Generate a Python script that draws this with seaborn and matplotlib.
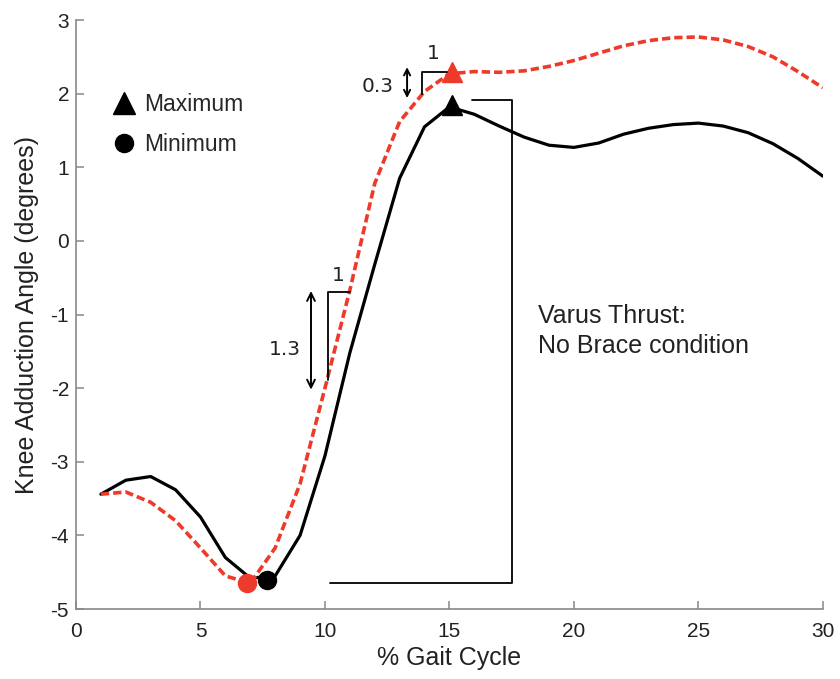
import seaborn as sns
import matplotlib.pyplot as plt
import numpy as np
import pandas as pd
from matplotlib.lines import Line2D

# % gait cycle samples
gait = [1, 2, 3, 4, 5, 6, 7, 8, 9, 10, 11, 12, 13, 14, 15,
        16, 17, 18, 19, 20, 21, 22, 23, 24, 25, 26, 27, 28, 29, 30]

# knee adduction angle, black solid curve
angle_black = [-3.44, -3.25, -3.20, -3.38, -3.75, -4.30, -4.58, -4.55, -4.00, -2.92,
               -1.52, -0.32, 0.85, 1.55, 1.82, 1.72, 1.56, 1.41, 1.30, 1.27,
               1.33, 1.45, 1.53, 1.58, 1.60, 1.56, 1.47, 1.32, 1.12, 0.88]

# knee adduction angle, red dashed curve
angle_red = [-3.44, -3.41, -3.55, -3.80, -4.17, -4.55, -4.65, -4.17, -3.30, -2.00,
             -0.67, 0.78, 1.62, 2.03, 2.27, 2.30, 2.29, 2.31, 2.37, 2.45,
             2.55, 2.65, 2.72, 2.76, 2.77, 2.73, 2.64, 2.50, 2.30, 2.08]

# extrema (x, y)
max_black = (15.1, 1.85)
min_black = (7.67, -4.61)
max_red = (15.1, 2.29)
min_red = (6.87, -4.65)

RED = '#ee3a2a'

df = pd.DataFrame({'gait': gait, 'black': angle_black, 'red': angle_red})

sns.set_theme(style='ticks')
plt.rcParams['font.family'] = ['Liberation Sans', 'DejaVu Sans']
plt.rcParams['axes.unicode_minus'] = False

fig = plt.figure(figsize=(8.4, 6.79), dpi=100)
ax = fig.add_axes([0.0905, 0.103, 0.889, 0.8675])

sns.lineplot(data=df, x='gait', y='black', ax=ax, color='black', linewidth=2.3)
sns.lineplot(data=df, x='gait', y='red', ax=ax, color=RED, linewidth=2.6,
             linestyle=(0, (2.3, 1.1)))

# extrema markers
ax.plot(*max_black, marker='^', color='black', markersize=15, linestyle='none')
ax.plot(*min_black, marker='o', color='black', markersize=13, linestyle='none')
ax.plot(*max_red, marker='^', color=RED, markersize=15, linestyle='none')
ax.plot(*min_red, marker='o', color=RED, markersize=13, linestyle='none')

# varus thrust bracket
bx = 17.5
ax.plot([15.9, bx, bx, 10.2], [1.91, 1.91, -4.64, -4.64], color='black', linewidth=1.3)

# slope triangle on the rise
ax.plot([10.12, 10.12, 11.0], [-1.89, -0.70, -0.70], color='black', linewidth=1.3)
ax.annotate('', xy=(9.44, -0.68), xytext=(9.44, -2.02),
            arrowprops=dict(arrowstyle='<->', lw=1.4, color='black',
                            shrinkA=0, shrinkB=0, mutation_scale=14))
ax.text(8.4, -1.48, '1.3', fontsize=14.5, ha='center', va='center',
        family='DejaVu Sans', color='#222222')
ax.text(10.55, -0.47, '1', fontsize=14.5, ha='center', va='center',
        family='DejaVu Sans', color='#222222')

# slope triangle at the peak
ax.plot([13.9, 13.9, 14.9], [2.0, 2.3, 2.3], color='black', linewidth=1.3)
ax.annotate('', xy=(13.3, 2.36), xytext=(13.3, 1.94),
            arrowprops=dict(arrowstyle='<->', lw=1.4, color='black',
                            shrinkA=0, shrinkB=0, mutation_scale=11))
ax.text(12.1, 2.1, '0.3', fontsize=14.5, ha='center', va='center',
        family='DejaVu Sans', color='#222222')
ax.text(14.35, 2.55, '1', fontsize=14.5, ha='center', va='center',
        family='DejaVu Sans', color='#222222')

ax.text(18.55, -1.22, 'Varus Thrust:\nNo Brace condition', fontsize=18,
        ha='left', va='center', color='#222222', linespacing=1.3)

# legend
handles = [Line2D([], [], marker='^', color='black', markersize=16, linestyle='none'),
           Line2D([], [], marker='o', color='black', markersize=13, linestyle='none')]
ax.legend(handles, ['Maximum', 'Minimum'], loc='upper left', bbox_to_anchor=(0.021, 0.911),
          frameon=False, fontsize=16.5, handlelength=1.0, handletextpad=0.4,
          labelspacing=0.75)

ax.set_xlim(0, 30)
ax.set_ylim(-5, 3)
ax.set_xticks(np.arange(0, 31, 5))
ax.set_yticks(np.arange(-5, 4, 1))
ax.set_xlabel('% Gait Cycle', fontsize=18, color='#222222', labelpad=4)
ax.set_ylabel('Knee Adduction Angle (degrees)', fontsize=18, color='#222222', labelpad=8)

sns.despine(ax=ax)
for side in ['left', 'bottom']:
    ax.spines[side].set_color('#888888')
    ax.spines[side].set_linewidth(1.2)
ax.tick_params(direction='in', length=6, width=1.1, color='#888888',
               labelsize=15, labelcolor='#222222')
ax.tick_params(axis='x', pad=9)
ax.tick_params(axis='y', pad=5)

fig.savefig('out.png', dpi=100)
